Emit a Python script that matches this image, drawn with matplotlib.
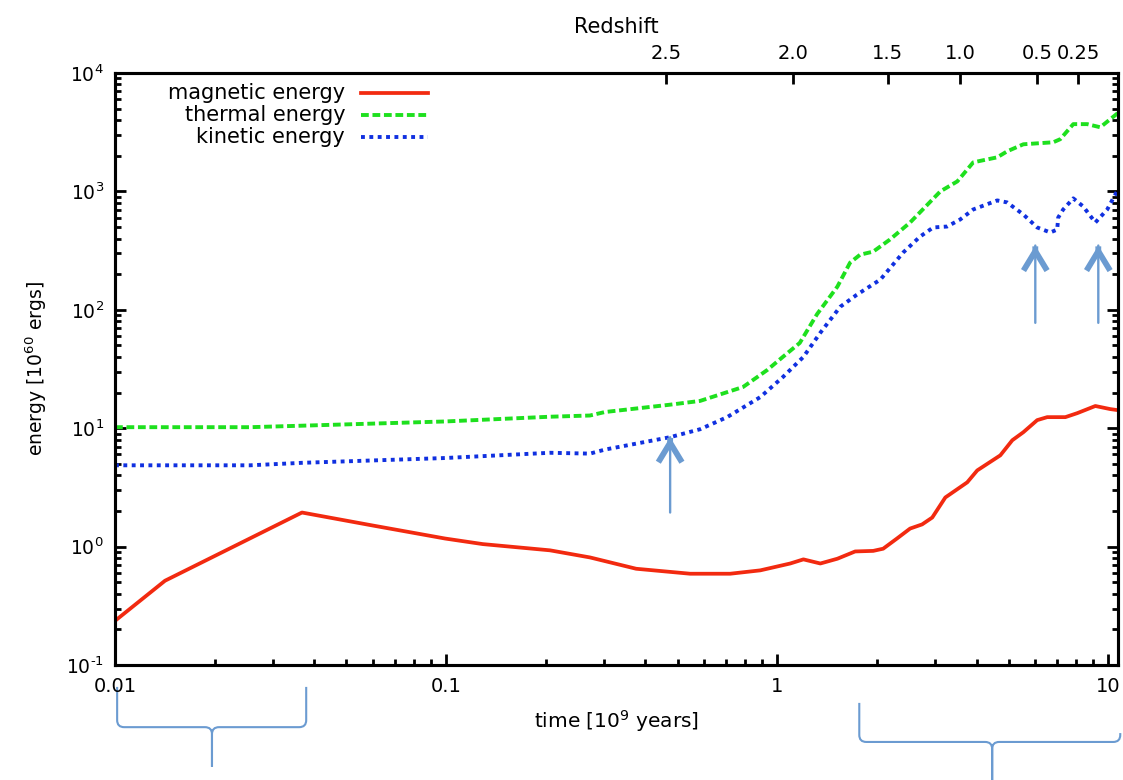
import numpy as np
import matplotlib
matplotlib.use('Agg')
import matplotlib.pyplot as plt
from matplotlib.path import Path
from matplotlib.patches import PathPatch
from matplotlib.lines import Line2D
import matplotlib.transforms as mtransforms
from matplotlib.ticker import (LogLocator, NullLocator, FixedLocator, FixedFormatter,
                               NullFormatter, FuncFormatter)

plt.rcParams['font.family'] = ['DejaVu Sans']
plt.rcParams['mathtext.default'] = 'regular'
plt.rcParams['axes.unicode_minus'] = False

# ---------------- data ----------------
mag_t = [0.0100, 0.01416, 0.0367, 0.0598, 0.0993, 0.129, 0.206, 0.272, 0.375, 0.546,
         0.721, 0.889, 1.095, 1.20, 1.35, 1.52, 1.72, 1.95, 2.09, 2.30, 2.52, 2.74,
         2.94, 3.22, 3.75, 4.02, 4.72, 5.13, 5.54, 6.10, 6.54, 7.42, 8.06, 9.14,
         10.14, 10.7]
mag_E = [0.236, 0.515, 1.94, 1.51, 1.17, 1.05, 0.93, 0.81, 0.65, 0.59,
         0.59, 0.63, 0.72, 0.78, 0.72, 0.79, 0.91, 0.92, 0.96, 1.17, 1.42, 1.54,
         1.76, 2.60, 3.49, 4.40, 5.90, 7.91, 9.25, 11.7, 12.4, 12.4, 13.4, 15.4,
         14.5, 14.2]

th_t = [0.0100, 0.0256, 0.0367, 0.0993, 0.206, 0.272, 0.302, 0.475, 0.585, 0.789,
        0.870, 0.933, 1.04, 1.17, 1.32, 1.52, 1.66, 1.78, 1.95, 2.19, 2.52, 3.11,
        3.50, 3.91, 4.62, 4.95, 5.54, 6.82, 7.16, 7.84, 8.64, 9.46, 10.7]
th_E = [10.2, 10.2, 10.5, 11.4, 12.5, 12.8, 13.7, 15.8, 17.0, 22.3,
        27.0, 31.0, 40, 52.5, 92, 157, 250, 292, 310, 392, 546, 1000,
        1215, 1760, 1940, 2180, 2500, 2600, 2760, 3700, 3700, 3480, 4600]

kin_t = [0.0100, 0.0256, 0.0367, 0.0993, 0.206, 0.272, 0.302, 0.475, 0.585, 0.706,
         0.889, 1.04, 1.20, 1.35, 1.55, 1.74, 2.05, 2.40, 2.70, 2.96, 3.26, 3.57,
         3.91, 4.62, 4.95, 5.54, 6.10, 6.68, 7.01, 7.06, 7.31, 7.84, 8.40, 9.14,
         9.93, 10.7]
kin_E = [4.86, 4.86, 5.1, 5.6, 6.2, 6.1, 6.6, 8.4, 9.8, 12.4,
         18.3, 27.0, 40, 64, 106, 134, 180, 304, 415, 496, 505, 579,
         704, 839, 807, 638, 496, 450, 476, 602, 704, 873, 746, 546,
         704, 1040]

series_labels = ['magnetic energy', 'thermal energy', 'kinetic energy']

x_ticks = [0.01, 0.1, 1, 10]
x_ticklabels = ['0.01', '0.1', '1', '10']

z_times = [0.462, 1.12, 2.16, 3.57, 6.10, 8.11]
z_labels = ['2.5', '2.0', '1.5', '1.0', '0.5', '0.25']

# arrows: (time, tail energy, tip energy)
arrow_t = [0.475, 6.02, 9.33]
arrow_tail = [1.94, 77.6, 77.6]
arrow_tip = [8.4, 349, 349]

# ---------------- figure ----------------
W, H = 1123, 780
fig = plt.figure(figsize=(W / 100, H / 100), dpi=100)
L, R, T, B = 115, 1118, 73, 665
ax = fig.add_axes([L / W, 1 - B / H, (R - L) / W, (B - T) / H])
ax.set_xscale('log')
ax.set_yscale('log')
ax.set_xlim(0.01, 10.7)
ax.set_ylim(0.1, 1e4)

red = '#f22a10'
green = '#1ee01e'
blue = '#1030e0'
acol = '#6b9bd1'

lw_c = 2.8
ax.plot(mag_t, mag_E, color=red, lw=2.7, solid_capstyle='butt',
        solid_joinstyle='round', zorder=3)
ax.plot(th_t, th_E, color=green, lw=lw_c, dashes=(2.0, 0.95), zorder=3)
ax.plot(kin_t, kin_E, color=blue, lw=lw_c, dashes=(1.0, 1.15), zorder=3)


def pow10(v, pos):
    e = int(round(np.log10(v)))
    s = str(e).replace('-', '\u2010')
    return '10$^{%s}$' % s


# ticks
ax.xaxis.set_major_locator(FixedLocator(x_ticks))
ax.xaxis.set_major_formatter(FixedFormatter(x_ticklabels))
ax.xaxis.set_minor_locator(LogLocator(base=10, subs=np.arange(2, 10)))
ax.xaxis.set_minor_formatter(NullFormatter())
ax.yaxis.set_major_locator(LogLocator(base=10, numticks=10))
ax.yaxis.set_major_formatter(FuncFormatter(pow10))
ax.yaxis.set_minor_locator(LogLocator(base=10, subs=np.arange(2, 10), numticks=20))
ax.yaxis.set_minor_formatter(NullFormatter())
ax.tick_params(which='both', direction='in', top=False, right=True, width=2.0)
ax.tick_params(which='major', length=8)
ax.tick_params(which='minor', length=4.5)
ax.tick_params(axis='x', which='major', pad=9, labelsize=14)
ax.tick_params(axis='y', which='major', pad=8, labelsize=13.5)
for s in ax.spines.values():
    s.set_linewidth(2.2)

ax.set_xlabel('time [10$^{9}$ years]', fontsize=14.5, labelpad=8)
ax.set_ylabel('energy [10$^{60}$ ergs]', fontsize=13.5, labelpad=12)

# top redshift axis
ax2 = ax.twiny()
ax2.set_xscale('log')
ax2.set_xlim(ax.get_xlim())
ax2.xaxis.set_major_locator(FixedLocator(z_times))
ax2.xaxis.set_major_formatter(FixedFormatter(z_labels))
ax2.xaxis.set_minor_locator(NullLocator())
ax2.tick_params(axis='x', which='major', direction='in', length=8, width=2.0,
                pad=7, labelsize=14)
for s in ax2.spines.values():
    s.set_linewidth(2.2)
ax2.set_xlabel('Redshift', fontsize=15, labelpad=8)

# legend (text right-aligned before the sample, gnuplot style)
leg_y = [0.966, 0.929, 0.892]
styles = [dict(color=red, lw=2.7), dict(color=green, lw=lw_c, dashes=(2.0, 0.95)),
          dict(color=blue, lw=lw_c, dashes=(1.0, 1.15))]
for lab, yy, st in zip(series_labels, leg_y, styles):
    ax.text(0.2295, yy, lab, transform=ax.transAxes, ha='right', va='center',
            fontsize=15)
    ax.add_line(Line2D([0.245, 0.3124], [yy, yy], transform=ax.transAxes, **st))

# arrows
for xa, y0, y1 in zip(arrow_t, arrow_tail, arrow_tip):
    ax.annotate('', xy=(xa, y1), xytext=(xa, y0),
                arrowprops=dict(arrowstyle='-', color=acol, lw=1.7,
                                shrinkA=0, shrinkB=0))
    ax.annotate('', xy=(xa, y1), xytext=(xa, y1 / 1.03),
                arrowprops=dict(arrowstyle='->,head_length=1.4,head_width=0.85',
                                color=acol, lw=4.2, shrinkA=0, shrinkB=0,
                                mutation_scale=10, joinstyle='miter',
                                capstyle='butt'))

# curly braces below the time axis (x in data, y in axes fraction)
btrans = mtransforms.blended_transform_factory(ax.transData, ax.transAxes)
rx = 7 / 331.0   # decades
ry = 7 / 592.0   # axes fraction


def brace(xl, xm, xr, ytop_l, ytop_r, yh, ytip):
    lxl, lxm, lxr = np.log10([xl, xm, xr])
    P = lambda lx, y: (10 ** lx, y)
    verts = [P(lxl, ytop_l), P(lxl, yh + ry), P(lxl, yh), P(lxl + rx, yh),
             P(lxm - rx, yh), P(lxm, yh), P(lxm, yh - ry), P(lxm, ytip),
             P(lxm, ytip), P(lxm, yh - ry), P(lxm, yh), P(lxm + rx, yh),
             P(lxr - rx, yh), P(lxr, yh), P(lxr, yh + ry), P(lxr, ytop_r)]
    codes = [Path.MOVETO, Path.LINETO, Path.CURVE3, Path.CURVE3,
             Path.LINETO, Path.CURVE3, Path.CURVE3, Path.LINETO,
             Path.MOVETO, Path.LINETO, Path.CURVE3, Path.CURVE3,
             Path.LINETO, Path.CURVE3, Path.CURVE3, Path.LINETO]
    patch = PathPatch(Path(verts, codes), transform=btrans, fill=False,
                      edgecolor=acol, lw=1.5, clip_on=False)
    ax.add_patch(patch)


brace(0.01015, 0.01963, 0.0378, -0.037, -0.037, -0.105, -0.172)
brace(1.77, 4.46, 10.87, -0.064, -0.115, -0.130, -0.20)

fig.savefig('out.png', dpi=100)
